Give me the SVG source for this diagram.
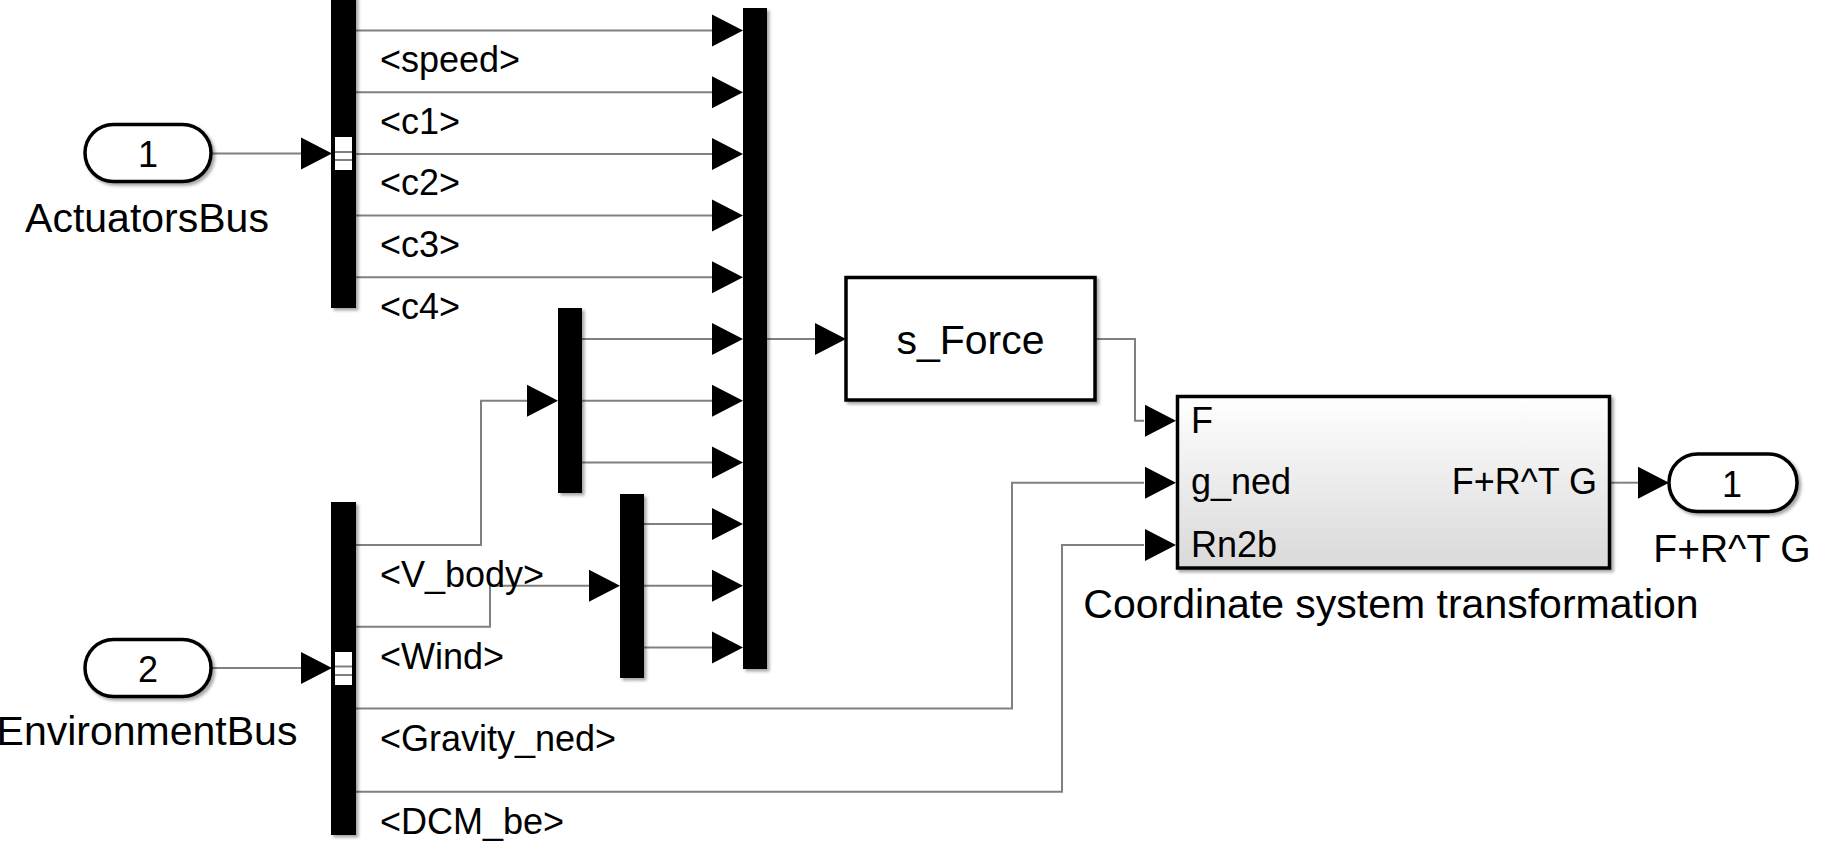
<svg xmlns="http://www.w3.org/2000/svg" xmlns:xlink="http://www.w3.org/1999/xlink" width="1843" height="861" viewBox="0 0 1843 861">
<style>
  .sig { fill: none; stroke: #808080; stroke-width: 2; }
  .bar { fill: #000; filter: url(#sh); }
  .blk { fill: #fff; stroke: #000; stroke-width: 3.5; filter: url(#sh); }
  .port { fill: #fff; stroke: #000; stroke-width: 3.5; filter: url(#sh); }
  .t { font-family: "Liberation Sans", Arial, sans-serif; fill: #000; }
  .lbl { font-size: 36px; }
  .big { font-size: 41px; }
  .mid { text-anchor: middle; }
  .end { text-anchor: end; }
  .arr { fill: #000; }
  .mk { fill: #fff; }
  .mkl { stroke: #808080; stroke-width: 2; }
</style>
<defs>
  <filter id="sh" x="-20%" y="-20%" width="160%" height="160%">
    <feDropShadow dx="2.5" dy="2.5" stdDeviation="1.5" flood-color="#000" flood-opacity="0.35"/>
  </filter>
  <linearGradient id="cstg" x1="0" y1="0" x2="0" y2="1">
    <stop offset="0" stop-color="#ffffff"/>
    <stop offset="1" stop-color="#d9d9d9"/>
  </linearGradient>
  <path id="arr" d="M0,0 L-31,-16 L-31,16 Z"/>
</defs>
<rect x="0" y="0" width="1843" height="861" fill="#fff"/>

<g id="connectors">
  <!-- port 1 to bus selector 1 -->
  <path class="sig" d="M211,153.5 H301"/>
  <!-- bus selector 1 outputs -->
  <path class="sig" d="M356,30.5 H712"/>
  <path class="sig" d="M356,92.2 H712"/>
  <path class="sig" d="M356,153.9 H712"/>
  <path class="sig" d="M356,215.6 H712"/>
  <path class="sig" d="M356,277.3 H712"/>
  <!-- port 2 to bus selector 2 -->
  <path class="sig" d="M211,668 H301"/>
  <!-- env outputs -->
  <path class="sig" d="M356,545 H481 V400.7 H527"/>
  <path class="sig" d="M356,626.7 H490 V585.8 H589"/>
  <path class="sig" d="M356,708.5 H1012 V482.7 H1144"/>
  <path class="sig" d="M356,791.7 H1062 V545 H1144"/>
  <!-- mux2 outputs -->
  <path class="sig" d="M582,339 H712"/>
  <path class="sig" d="M582,400.7 H712"/>
  <path class="sig" d="M582,462.4 H712"/>
  <!-- mux3 outputs -->
  <path class="sig" d="M644,524.1 H712"/>
  <path class="sig" d="M644,585.8 H712"/>
  <path class="sig" d="M644,647.5 H712"/>
  <!-- big mux out -->
  <path class="sig" d="M767,339 H816"/>
  <!-- s_Force out -->
  <path class="sig" d="M1095,339 H1135 V420.7 H1144"/>
  <!-- CST out -->
  <path class="sig" d="M1610,482.7 H1638"/>

  <!-- arrowheads -->
  <use href="#arr" class="arr" x="332" y="153.5"/>
  <use href="#arr" class="arr" x="332" y="668"/>
  <use href="#arr" class="arr" x="743" y="30.5"/>
  <use href="#arr" class="arr" x="743" y="92.2"/>
  <use href="#arr" class="arr" x="743" y="153.9"/>
  <use href="#arr" class="arr" x="743" y="215.6"/>
  <use href="#arr" class="arr" x="743" y="277.3"/>
  <use href="#arr" class="arr" x="743" y="339"/>
  <use href="#arr" class="arr" x="743" y="400.7"/>
  <use href="#arr" class="arr" x="743" y="462.4"/>
  <use href="#arr" class="arr" x="743" y="524.1"/>
  <use href="#arr" class="arr" x="743" y="585.8"/>
  <use href="#arr" class="arr" x="743" y="647.5"/>
  <use href="#arr" class="arr" x="558" y="400.7"/>
  <use href="#arr" class="arr" x="620" y="585.8"/>
  <use href="#arr" class="arr" x="846" y="339"/>
  <use href="#arr" class="arr" x="1176" y="420.7"/>
  <use href="#arr" class="arr" x="1176" y="482.7"/>
  <use href="#arr" class="arr" x="1176" y="545"/>
  <use href="#arr" class="arr" x="1669" y="482.7"/>
</g>

<g id="in1">
  <rect class="port" x="85" y="124.5" width="126" height="57" rx="28.5"/>
  <text class="t lbl mid" x="148" y="166.5">1</text>
  <text class="t big mid" x="147" y="232">ActuatorsBus</text>
</g>

<g id="in2">
  <rect class="port" x="85" y="639.5" width="126" height="57" rx="28.5"/>
  <text class="t lbl mid" x="148" y="681.5">2</text>
  <text class="t big mid" x="147" y="745">EnvironmentBus</text>
</g>

<g id="busselector1">
  <rect class="bar" x="331" y="-4" width="25" height="312"/>
  <rect class="mk" x="335" y="137" width="17" height="33"/>
  <line class="mkl" x1="335" y1="152" x2="352" y2="152"/>
  <line class="mkl" x1="335" y1="160" x2="352" y2="160"/>
  <text class="t lbl" x="380" y="72">&lt;speed&gt;</text>
  <text class="t lbl" x="380" y="133.5">&lt;c1&gt;</text>
  <text class="t lbl" x="380" y="195.2">&lt;c2&gt;</text>
  <text class="t lbl" x="380" y="256.9">&lt;c3&gt;</text>
  <text class="t lbl" x="380" y="318.6">&lt;c4&gt;</text>
</g>

<g id="busselector2">
  <rect class="bar" x="331" y="502" width="25" height="333"/>
  <rect class="mk" x="335" y="652" width="17" height="33"/>
  <line class="mkl" x1="335" y1="666.5" x2="352" y2="666.5"/>
  <line class="mkl" x1="335" y1="675" x2="352" y2="675"/>
  <text class="t lbl" x="380" y="587">&lt;V_body&gt;</text>
  <text class="t lbl" x="380" y="668.5">&lt;Wind&gt;</text>
  <text class="t lbl" x="380" y="751">&lt;Gravity_ned&gt;</text>
  <text class="t lbl" x="380" y="833.5">&lt;DCM_be&gt;</text>
</g>

<g id="mux2">
  <rect class="bar" x="558" y="308" width="24" height="185"/>
</g>

<g id="mux3">
  <rect class="bar" x="620" y="494" width="24" height="184"/>
</g>

<g id="mux1">
  <rect class="bar" x="743" y="8" width="24" height="661"/>
</g>

<g id="sforce">
  <rect class="blk" x="846" y="277.5" width="249" height="122.5"/>
  <text class="t big mid" x="970.5" y="353.5">s_Force</text>
</g>

<g id="cst">
  <rect class="blk" x="1177.5" y="396.5" width="432" height="171.5" style="fill:url(#cstg)"/>
  <text class="t lbl" x="1191" y="433">F</text>
  <text class="t lbl" x="1191" y="494">g_ned</text>
  <text class="t lbl" x="1191" y="557">Rn2b</text>
  <text class="t lbl end" x="1597" y="494">F+R^T G</text>
  <text class="t big mid" x="1391" y="618">Coordinate system transformation</text>
</g>

<g id="out1">
  <rect class="port" x="1669" y="454" width="128" height="57.5" rx="28.5"/>
  <text class="t lbl mid" x="1732" y="496.5">1</text>
  <text class="t mid" style="font-size:39px" x="1732" y="562">F+R^T G</text>
</g>
</svg>
